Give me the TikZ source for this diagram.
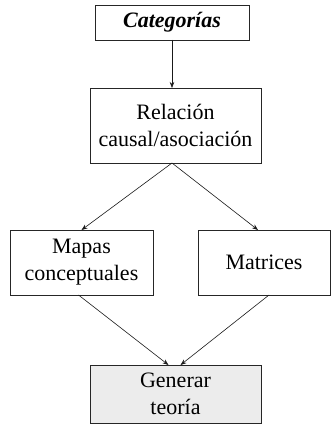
\documentclass[tikz,border=0pt]{standalone}
\usepackage{fontspec}
\setmainfont{Liberation Serif}
\usetikzlibrary{arrows.meta}

\begin{document}
\begin{tikzpicture}[
  x = 1pt, y = 1pt,
  box/.style = {draw=black!85, line width=0.8pt, inner sep=0pt, outer sep=0pt,
                align=center, font=\fontsize{22}{27}\selectfont},
  goal/.style = {box, fill=gray!15},
  link/.style = {draw=black!90, line width=0.6pt, -{Stealth[length=6pt,width=4.5pt]}},
  ]
  \useasboundingbox (0,0) rectangle (331,424);
  \node[box, minimum width=154pt, minimum height=35pt] (cat) at (172,401.5) {\textbf{\textit{Categorías}}};
  \node[box, minimum width=171pt, minimum height=75pt] (rel) at (175.5,298.5) {Relación\\causal/asociación};
  \node[box, minimum width=143pt, minimum height=65pt] (map) at (81.5,161.5) {Mapas\\conceptuales};
  \node[box, minimum width=132pt, minimum height=65pt] (mat) at (264,161.5) {Matrices};
  \node[goal, minimum width=171pt, minimum height=58pt] (gen) at (175.5,30) {Generar\\teoría};
  % lines
  \coordinate (apex) at (cat.south |- rel.south);
  \draw[link] (cat.south) -- (cat.south |- rel.north);
  \draw[link] (apex) -- (map.north);
  \draw[link] (apex) -- ([xshift=-6pt]mat.north);
  \draw[link] ([xshift=-3pt]map.south) -- ([xshift=-7pt]gen.north);
  \draw[link] ([xshift=5pt]mat.south) -- ([xshift=5pt]gen.north);
\end{tikzpicture}
\end{document}
